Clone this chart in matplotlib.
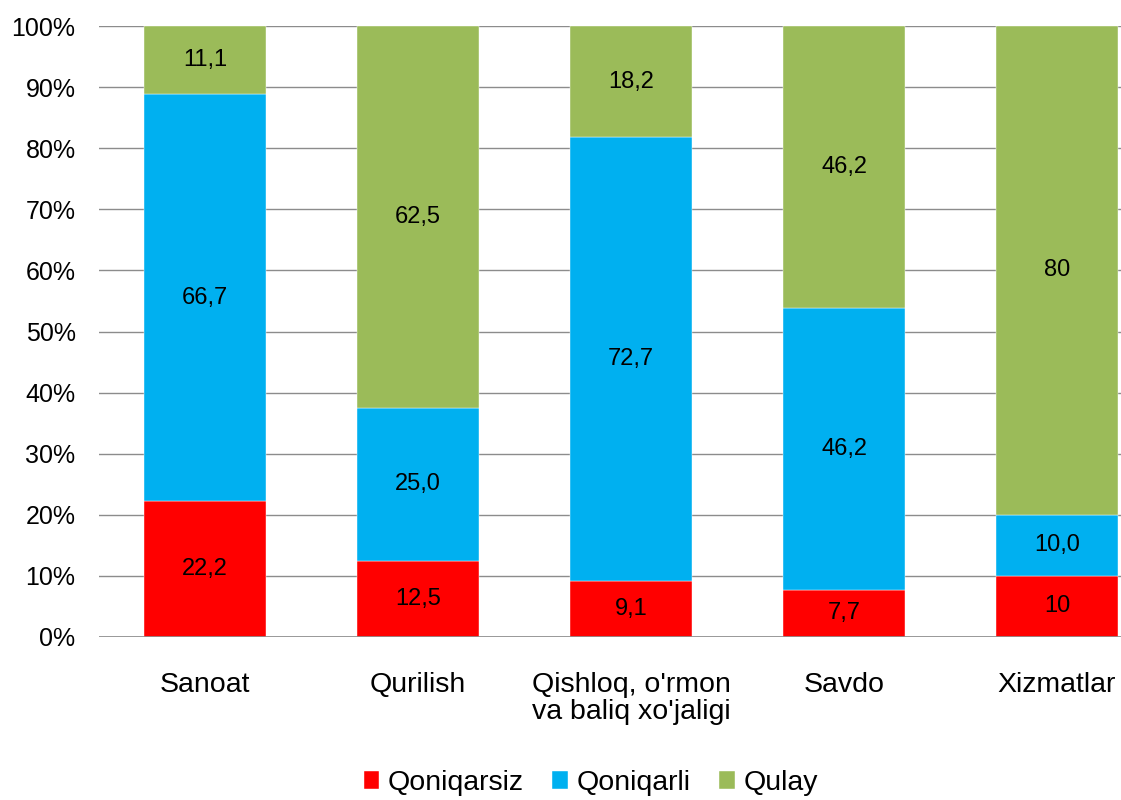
import matplotlib
matplotlib.use("Agg")
import matplotlib.pyplot as plt
import numpy as np

categories = ["Sanoat", "Qurilish", "Qishloq, o'rmon\nva baliq xo'jaligi", "Savdo", "Xizmatlar"]
series_names = ["Qoniqarsiz", "Qoniqarli", "Qulay"]
qoniqarsiz = [22.2, 12.5, 9.1, 7.7, 10.0]
qoniqarli = [66.7, 25.0, 72.7, 46.2, 10.0]
qulay = [11.1, 62.5, 18.2, 46.2, 80.0]
qoniqarsiz_labels = ["22,2", "12,5", "9,1", "7,7", "10"]
qoniqarli_labels = ["66,7", "25,0", "72,7", "46,2", "10,0"]
qulay_labels = ["11,1", "62,5", "18,2", "46,2", "80"]
colors = ["#FF0000", "#00B0F0", "#9BBB59"]
yticks = list(range(0, 101, 10))

plt.rcParams['font.family'] = ['Liberation Sans', 'DejaVu Sans']

fig = plt.figure(figsize=(11.21, 8), dpi=100)
ax = fig.add_axes([98.5 / 1121, 1 - 637 / 800, 1 - 98.5 / 1121, (637 - 26) / 800])

data = np.array([qoniqarsiz, qoniqarli, qulay])
totals = data.sum(axis=0)
pct = data / totals * 100
labels = [qoniqarsiz_labels, qoniqarli_labels, qulay_labels]

x = np.arange(len(categories))
width = 0.57
bottom = np.zeros(len(categories))
for i in range(3):
    ax.bar(x, pct[i], width, bottom=bottom, color=colors[i], label=series_names[i],
           edgecolor='white', linewidth=0.3, zorder=3)
    for j in range(len(categories)):
        ax.text(x[j], bottom[j] + pct[i][j] / 2, labels[i][j], ha='center', va='center',
                fontsize=17, color='black', zorder=4)
    bottom += pct[i]

ax.set_ylim(0, 100)
ax.set_xlim(-0.5, (1121 - 98.5) / 213 - 0.5)
ax.set_yticks(yticks)
ax.set_yticklabels([f"{t}%" for t in yticks], fontsize=18)
ax.set_xticks(x)
ax.set_xticklabels(categories, fontsize=20.5, linespacing=1.05)
ax.tick_params(axis='both', length=0)
ax.tick_params(axis='x', pad=25)
ax.tick_params(axis='y', pad=16.5)
ax.yaxis.grid(True, color='#8C8C8C', linewidth=1, zorder=0)
ax.axhline(0, color='#8C8C8C', linewidth=1.2, zorder=5)
for s in ax.spines.values():
    s.set_visible(False)

fig.legend(loc='center', bbox_to_anchor=(0.527, 1 - 783 / 800), ncol=3, frameon=False,
           fontsize=20.5, handlelength=0.55, handleheight=0.55, handletextpad=0.3,
           columnspacing=1.0, borderpad=0)

fig.savefig("out.png", dpi=100)
